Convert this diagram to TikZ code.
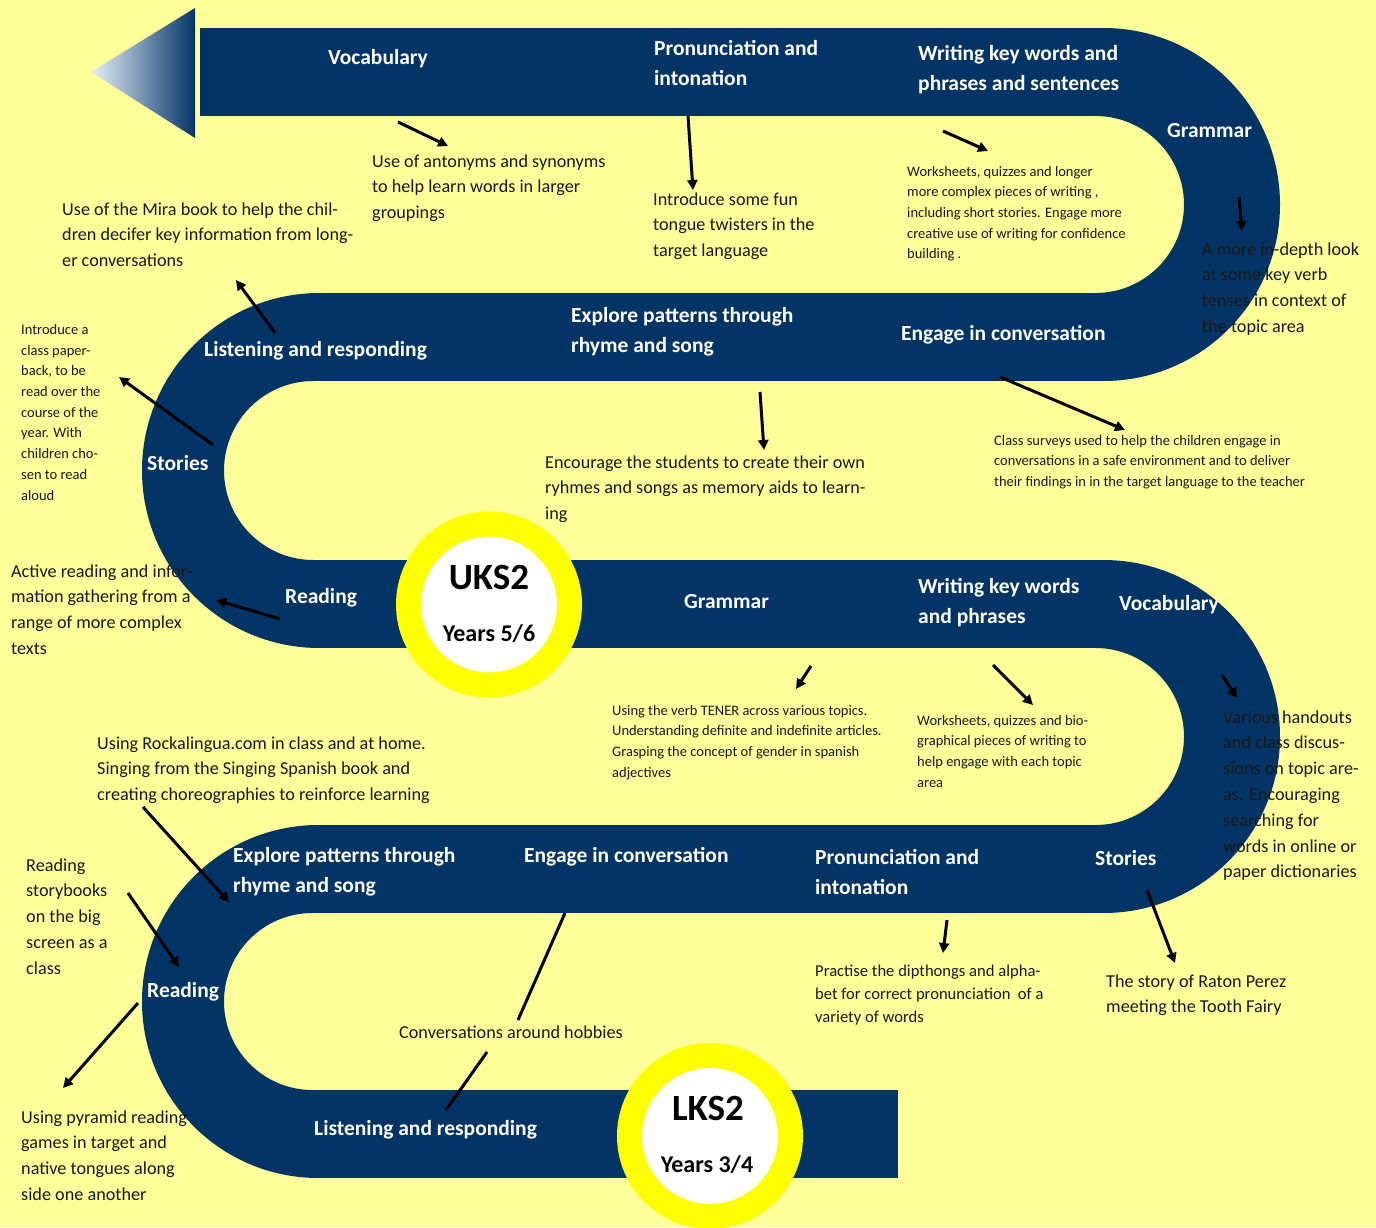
\documentclass[tikz,border=0pt]{standalone}
\usepackage{fontspec}
\setmainfont{Carlito}
\usetikzlibrary{arrows.meta}
\definecolor{bgy}{RGB}{255,255,153}
\definecolor{navy}{RGB}{3,52,102}
\definecolor{ring}{RGB}{255,255,0}
\definecolor{tipc}{RGB}{232,239,250}
\definecolor{ink}{RGB}{25,25,25}
\begin{document}
\begin{tikzpicture}[x=1pt,y=-1pt,
  lbl/.style={anchor=base west, inner sep=0pt, align=left, text=white, font=\fontsize{21.5}{30}\selectfont\bfseries},
  txt/.style={anchor=base west, inner sep=0pt, align=left, text=ink, font=\fontsize{18.2}{25.8}\selectfont},
  txtb/.style={anchor=base west, inner sep=0pt, align=left, text=ink, font=\fontsize{16.6}{23}\selectfont},
  sml/.style={anchor=base west, inner sep=0pt, align=left, text=ink, font=\fontsize{14.5}{20.7}\selectfont},
  arr/.style={line width=3pt, -{Triangle[length=10pt,width=10pt]}},
  ln/.style={line width=3pt},
  badge/.style={circle, fill=white, draw=ring, line width=25pt, minimum size=161pt, inner sep=0pt},
  bigt/.style={anchor=base, inner sep=0pt, font=\fontsize{37}{37}\selectfont\bfseries},
  yeart/.style={anchor=base, inner sep=0pt, font=\fontsize{24}{24}\selectfont\bfseries}
]
\useasboundingbox (0,0) rectangle (1376,1227);
\fill[bgy] (0,0) rectangle (1376,1227);

% start triangle
\shade[left color=tipc, right color=navy] (91,72) -- (195,8) -- (195,138) -- cycle;

% straight bands
\fill[navy] (200,28) rectangle (1104,116);
\fill[navy] (313,293) rectangle (1104,381);
\fill[navy] (313,560) rectangle (1104,648);
\fill[navy] (312,825) rectangle (1104,913);
\fill[navy] (312,1090) rectangle (898,1178);

% turns
\fill[navy] (1103.5,28) arc[start angle=90,end angle=-90,radius=176.5pt]
  -- (1095.5,293) arc[start angle=-90,end angle=90,radius=88.5pt] -- cycle;
\fill[navy] (319.5,293) arc[start angle=90,end angle=270,radius=177.5pt]
  -- (313.5,560) arc[start angle=270,end angle=90,radius=89.5pt] -- cycle;
\fill[navy] (1103.5,560) arc[start angle=90,end angle=-90,radius=176.5pt]
  -- (1095.5,825) arc[start angle=-90,end angle=90,radius=88.5pt] -- cycle;
\fill[navy] (318.5,825) arc[start angle=90,end angle=270,radius=176.5pt]
  -- (312.5,1090) arc[start angle=270,end angle=90,radius=88.5pt] -- cycle;

% badges
\node[badge] (uks) at (489,604.5) {};
\node[bigt] (uksA) at (489,589) {UKS2};
\node[yeart] (uksB) at (489,641) {Years 5/6};
\node[badge] (lks) at (710,1136) {};
\node[bigt] (lksA) at (708,1120) {LKS2};
\node[yeart] (lksB) at (707,1172) {Years 3/4};

% road labels (y = baseline of last line)
\node[lbl] (L1) at (328,64) {Vocabulary};
\node[lbl] (L2) at (654,85) {Pronunciation and\\intonation};
\node[lbl] (L3) at (918,90) {Writing key words and\\phrases and sentences};
\node[lbl] (L4) at (1167,137) {Grammar};
\node[lbl] (L5) at (571,352) {Explore patterns through\\rhyme and song};
\node[lbl] (L6) at (901,340) {Engage in conversation};
\node[lbl] (L7) at (204,356) {Listening and responding};
\node[lbl] (L8) at (147,470) {Stories};
\node[lbl] (L9) at (285,603) {Reading};
\node[lbl] (L10) at (684,608) {Grammar};
\node[lbl] (L11) at (918,623) {Writing key words\\and phrases};
\node[lbl] (L12) at (1119,610) {Vocabulary};
\node[lbl] (L13) at (233,892) {Explore patterns through\\rhyme and song};
\node[lbl] (L14) at (524,862) {Engage in conversation};
\node[lbl] (L15) at (815,894) {Pronunciation and\\intonation};
\node[lbl] (L16) at (1095,865) {Stories};
\node[lbl] (L17) at (147,997) {Reading};
\node[lbl] (L18) at (314,1135) {Listening and responding};

% notes (y = baseline of last line)
\node[txt] (T1) at (372,218.6) {Use of antonyms and synonyms\\to help learn words in larger\\groupings};
\node[txt] (T2) at (653,256.6) {Introduce some fun\\tongue twisters in the\\target language};
\node[sml] (T3) at (907,258.8) {Worksheets, quizzes and longer\\more complex pieces of writing ,\\including short stories. Engage more\\creative use of writing for confidence\\building .};
\node[txt] (T4) at (1202,332.4) {A more in-depth look\\at some key verb\\tenses in context of\\the topic area};
\node[txt] (T5) at (62,266.6) {Use of the Mira book to help the chil-\\dren decifer key information from long-\\er conversations};
\node[sml] (T6) at (21,500) {Introduce a\\class paper-\\back, to be\\read over the\\course of the\\year. With\\children cho-\\sen to read\\aloud};
\node[txt] (T7) at (545,519.6) {Encourage the students to create their own\\ryhmes and songs as memory aids to learn-\\ing};
\node[sml] (T8) at (994,486.4) {Class surveys used to help the children engage in\\conversations in a safe environment and to deliver\\their findings in in the target language to the teacher};
\node[txt] (T9) at (11,654.4) {Active reading and infor-\\mation gathering from a\\range of more complex\\texts};
\node[sml] (T10) at (612,777.1) {Using the verb TENER across various topics.\\Understanding definite and indefinite articles.\\Grasping the concept of gender in spanish\\adjectives};
\node[sml] (T11) at (917,787.1) {Worksheets, quizzes and bio-\\graphical pieces of writing to\\help engage with each topic\\area};
\node[txt] (T12) at (1223,877.8) {Various handouts\\and class discus-\\sions on topic are-\\as. Encouraging\\searching for\\words in online or\\paper dictionaries};
\node[txt] (T13) at (97,800.6) {Using Rockalingua.com in class and at home.\\Singing from the Singing Spanish book and\\creating choreographies to reinforce learning};
\node[txt] (T14) at (26,974.2) {Reading\\storybooks\\on the big\\screen as a\\class};
\node[txt] (T15) at (21,1200.4) {Using pyramid reading\\games in target and\\native tongues along\\side one another};
\node[txt] (T16) at (399,1038) {Conversations around hobbies};
\node[txtb] (T17) at (815,1022) {Practise the dipthongs and alpha-\\bet for correct pronunciation\ \ of a\\variety of words};
\node[txt] (T18) at (1106,1012.8) {The story of Raton Perez\\meeting the Tooth Fairy};

% connector end points
\coordinate (a1s) at (398,122);  \coordinate (a1e) at (448,146);
\coordinate (a2s) at (688,116);  \coordinate (a2e) at (693,190);
\coordinate (a3s) at (943,131);  \coordinate (a3e) at (988,151);
\coordinate (a4s) at (1239,197); \coordinate (a4e) at (1242,231);
\coordinate (a5s) at (275,333);  \coordinate (a5e) at (236,280);
\coordinate (a6s) at (213,445);  \coordinate (a6e) at (119,377);
\coordinate (a7s) at (760,392);  \coordinate (a7e) at (764,450);
\coordinate (a8s) at (1000,377); \coordinate (a8e) at (1125,430);
\coordinate (a9s) at (280,619);  \coordinate (a9e) at (216,600);
\coordinate (a10s) at (811,666); \coordinate (a10e) at (796,689);
\coordinate (a11s) at (993,665); \coordinate (a11e) at (1033,705);
\coordinate (a12s) at (1222,675);\coordinate (a12e) at (1237,698);
\coordinate (a13s) at (143,807); \coordinate (a13e) at (229,902);
\coordinate (a14s) at (128,893); \coordinate (a14e) at (179,967);
\coordinate (a15s) at (138,1003);\coordinate (a15e) at (63,1088);
\coordinate (l1s) at (565,913);  \coordinate (l1e) at (518,1020);
\coordinate (l2s) at (487,1052); \coordinate (l2e) at (446,1110);
\coordinate (a17s) at (947,920); \coordinate (a17e) at (943,953);
\coordinate (a18s) at (1147,890);\coordinate (a18e) at (1175,963);

\draw[arr] (a1s) -- (a1e);
\draw[arr] (a2s) -- (a2e);
\draw[arr] (a3s) -- (a3e);
\draw[arr] (a4s) -- (a4e);
\draw[arr] (a5s) -- (a5e);
\draw[arr] (a6s) -- (a6e);
\draw[arr] (a7s) -- (a7e);
\draw[arr] (a8s) -- (a8e);
\draw[arr] (a9s) -- (a9e);
\draw[arr] (a10s) -- (a10e);
\draw[arr] (a11s) -- (a11e);
\draw[arr] (a12s) -- (a12e);
\draw[arr] (a13s) -- (a13e);
\draw[arr] (a14s) -- (a14e);
\draw[arr] (a15s) -- (a15e);
\draw[ln] (l1s) -- (l1e);
\draw[ln] (l2s) -- (l2e);
\draw[arr] (a17s) -- (a17e);
\draw[arr] (a18s) -- (a18e);
\end{tikzpicture}
\end{document}
